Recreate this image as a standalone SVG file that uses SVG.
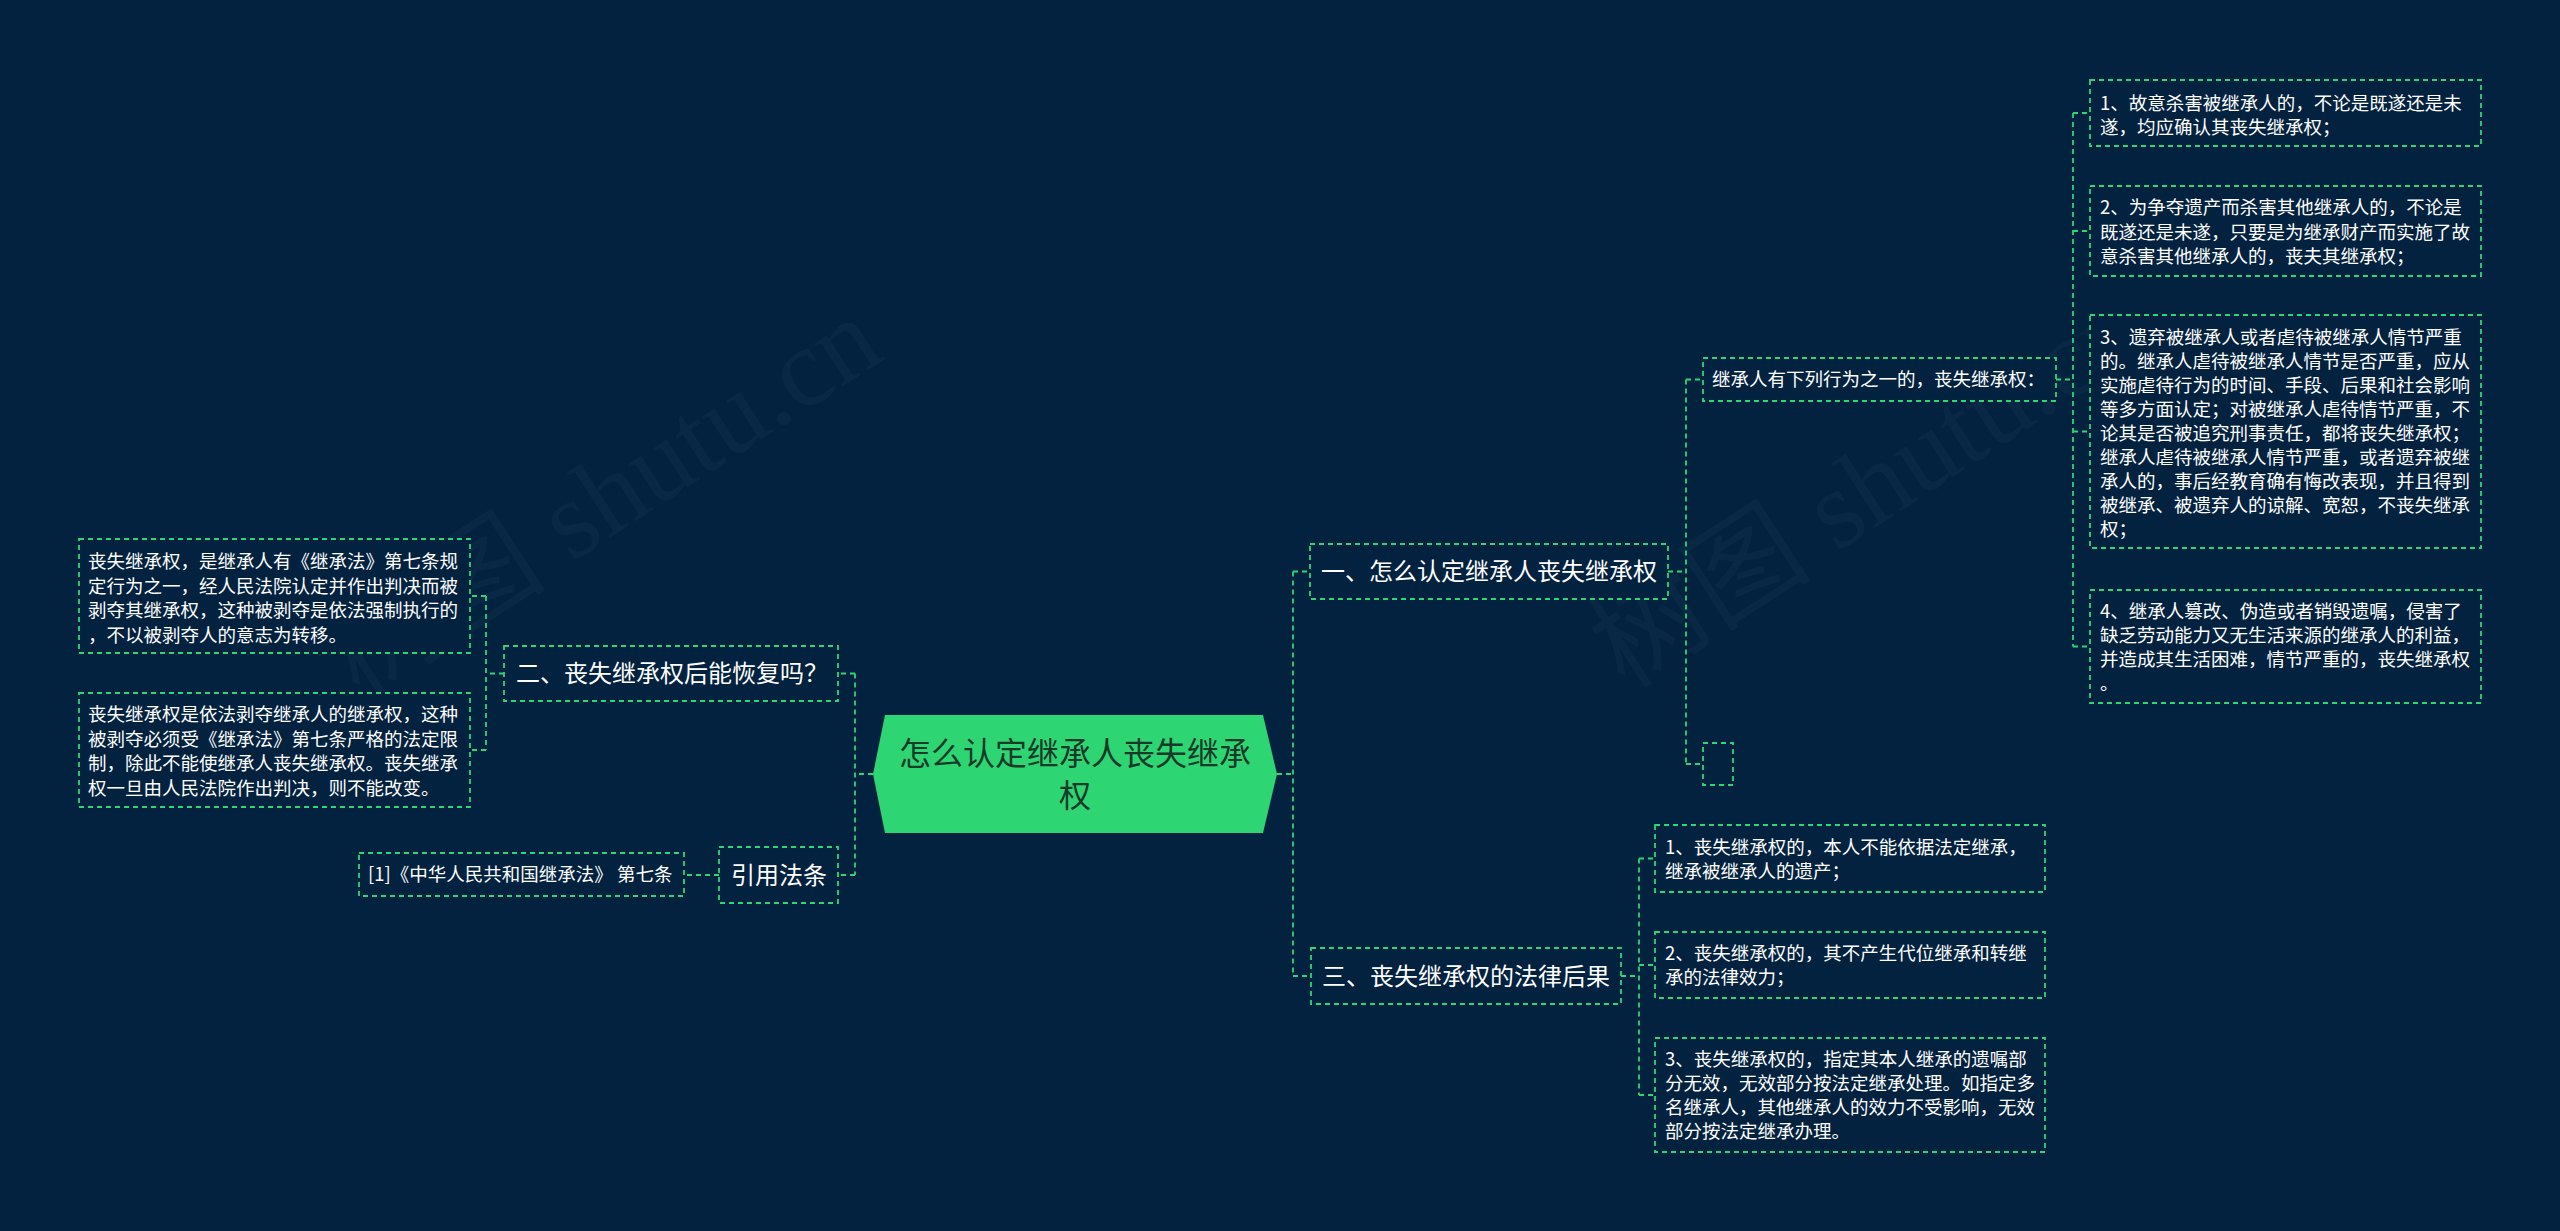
<svg xmlns="http://www.w3.org/2000/svg" width="2560" height="1231" viewBox="0 0 2560 1231">
<style>
.bg{fill:#022240}
.box{fill:#022240;stroke:#2ed573;stroke-width:1.8;stroke-dasharray:5 4}
.ln{fill:none;stroke:#2ed573;stroke-width:1.8;stroke-dasharray:5 4}
.t{font-family:"Microsoft YaHei","Noto Sans CJK SC","Noto Sans",sans-serif;fill:#ffffff}
.s{font-size:18.5px}
.m{font-size:24px}
.c{font-size:32px;fill:#163a28}
.wm{font-family:"Liberation Serif","Noto Sans CJK SC",serif;font-size:112px;fill:#ffffff;fill-opacity:0.03}
</style>
<rect class="bg" x="0" y="0" width="2560" height="1231"/>
<g id="watermarks">
<text class="wm" transform="translate(360,700) rotate(-33)">树图 shutu.cn</text>
<text class="wm" transform="translate(1625,690) rotate(-33)">树图 shutu.cn</text>
</g>
<g id="connectors">
<path class="ln" d="M873,774 H855 M855,673.5 V875 M855,673.5 H838 M855,875 H838"/>
<path class="ln" d="M504,673.5 H486 M486,596 V750 M486,596 H470 M486,750 H470"/>
<path class="ln" d="M719,875 H684"/>
<path class="ln" d="M1277,774 H1293 M1293,571.5 V976 M1293,571.5 H1310 M1293,976 H1311"/>
<path class="ln" d="M1668,571.5 H1686 M1686,379.5 V764 M1686,379.5 H1703 M1686,764 H1703"/>
<path class="ln" d="M2056,379.5 H2073 M2073,113 V646.5 M2073,113 H2090 M2073,231 H2090 M2073,431.5 H2090 M2073,646.5 H2090"/>
<path class="ln" d="M1621,976 H1639 M1639,858.5 V1095 M1639,858.5 H1655 M1639,965 H1655 M1639,1095 H1655"/>
</g>
<g id="root">
<polygon points="873,774 885,715 1263,715 1277,774 1263,833 885,833" fill="#2ed573"/>
<text class="t c" text-anchor="middle"><tspan x="1075" y="765">怎么认定继承人丧失继承</tspan><tspan x="1075" y="807">权</tspan></text>
</g>
<g id="n1">
<rect class="box" x="1310" y="544" width="358" height="55"/>
<text class="t m" x="1321" y="580">一、怎么认定继承人丧失继承权</text>
</g>
<g id="n1a">
<rect class="box" x="1703" y="358" width="353" height="43"/>
<text class="t s" x="1712" y="386">继承人有下列行为之一的，丧失继承权：</text>
</g>
<g id="n1b">
<rect class="box" x="1703" y="743" width="30" height="42"/>
</g>
<g id="n1a1">
<rect class="box" x="2090" y="80" width="391" height="66"/>
<text class="t s"><tspan x="2100" y="110">1、故意杀害被继承人的，不论是既遂还是未</tspan><tspan x="2100" y="134">遂，均应确认其丧失继承权；</tspan></text>
</g>
<g id="n1a2">
<rect class="box" x="2090" y="186" width="391" height="90"/>
<text class="t s"><tspan x="2100" y="214">2、为争夺遗产而杀害其他继承人的，不论是</tspan><tspan x="2100" y="238.5">既遂还是未遂，只要是为继承财产而实施了故</tspan><tspan x="2100" y="263">意杀害其他继承人的，丧夫其继承权；</tspan></text>
</g>
<g id="n1a3">
<rect class="box" x="2090" y="315" width="391" height="233"/>
<text class="t s"><tspan x="2100" y="344">3、遗弃被继承人或者虐待被继承人情节严重</tspan><tspan x="2100" y="368">的。继承人虐待被继承人情节是否严重，应从</tspan><tspan x="2100" y="392">实施虐待行为的时间、手段、后果和社会影响</tspan><tspan x="2100" y="416">等多方面认定；对被继承人虐待情节严重，不</tspan><tspan x="2100" y="440">论其是否被追究刑事责任，都将丧失继承权；</tspan><tspan x="2100" y="464">继承人虐待被继承人情节严重，或者遗弃被继</tspan><tspan x="2100" y="488">承人的，事后经教育确有悔改表现，并且得到</tspan><tspan x="2100" y="512">被继承、被遗弃人的谅解、宽恕，不丧失继承</tspan><tspan x="2100" y="536">权；</tspan></text>
</g>
<g id="n1a4">
<rect class="box" x="2090" y="590" width="391" height="113"/>
<text class="t s"><tspan x="2100" y="617.5">4、继承人篡改、伪造或者销毁遗嘱，侵害了</tspan><tspan x="2100" y="641.5">缺乏劳动能力又无生活来源的继承人的利益，</tspan><tspan x="2100" y="665.5">并造成其生活困难，情节严重的，丧失继承权</tspan><tspan x="2100" y="689.5">。</tspan></text>
</g>
<g id="n3">
<rect class="box" x="1311" y="948" width="310" height="56"/>
<text class="t m" x="1322" y="985">三、丧失继承权的法律后果</text>
</g>
<g id="n3a">
<rect class="box" x="1655" y="825" width="390" height="67"/>
<text class="t s"><tspan x="1665" y="853.5">1、丧失继承权的，本人不能依据法定继承，</tspan><tspan x="1665" y="877.5">继承被继承人的遗产；</tspan></text>
</g>
<g id="n3b">
<rect class="box" x="1655" y="932" width="390" height="66"/>
<text class="t s"><tspan x="1665" y="960">2、丧失继承权的，其不产生代位继承和转继</tspan><tspan x="1665" y="984">承的法律效力；</tspan></text>
</g>
<g id="n3c">
<rect class="box" x="1655" y="1038" width="390" height="114"/>
<text class="t s"><tspan x="1665" y="1066">3、丧失继承权的，指定其本人继承的遗嘱部</tspan><tspan x="1665" y="1090">分无效，无效部分按法定继承处理。如指定多</tspan><tspan x="1665" y="1114">名继承人，其他继承人的效力不受影响，无效</tspan><tspan x="1665" y="1138">部分按法定继承办理。</tspan></text>
</g>
<g id="n2">
<rect class="box" x="504" y="646" width="334" height="55"/>
<text class="t m" x="516" y="682">二、丧失继承权后能恢复吗？</text>
</g>
<g id="n2a">
<rect class="box" x="79" y="539" width="391" height="114"/>
<text class="t s"><tspan x="88" y="568">丧失继承权，是继承人有《继承法》第七条规</tspan><tspan x="88" y="592.5">定行为之一，经人民法院认定并作出判决而被</tspan><tspan x="88" y="617">剥夺其继承权，这种被剥夺是依法强制执行的</tspan><tspan x="88" y="641.5">，不以被剥夺人的意志为转移。</tspan></text>
</g>
<g id="n2b">
<rect class="box" x="79" y="693" width="391" height="114"/>
<text class="t s"><tspan x="88" y="721">丧失继承权是依法剥夺继承人的继承权，这种</tspan><tspan x="88" y="745.5">被剥夺必须受《继承法》第七条严格的法定限</tspan><tspan x="88" y="770">制，除此不能使继承人丧失继承权。丧失继承</tspan><tspan x="88" y="794.5">权一旦由人民法院作出判决，则不能改变。</tspan></text>
</g>
<g id="n4">
<rect class="box" x="719" y="847" width="119" height="56"/>
<text class="t m" x="731" y="884">引用法条</text>
</g>
<g id="n4a">
<rect class="box" x="359" y="853" width="325" height="43"/>
<text class="t s" x="368" y="881">[1]《中华人民共和国继承法》 第七条</text>
</g>
</svg>
